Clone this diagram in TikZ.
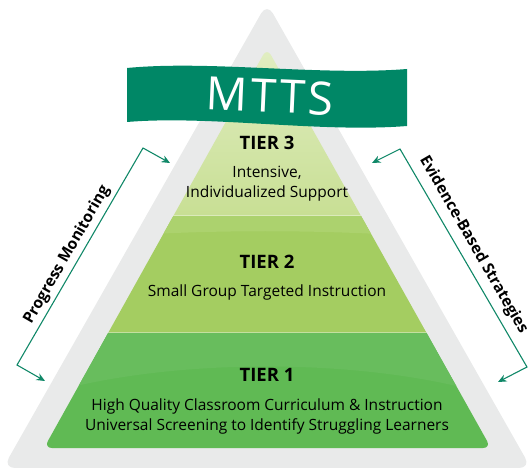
\documentclass[tikz,border=0pt]{standalone}
\usepackage{fontspec}
\setmainfont{Open Sans}
\usetikzlibrary{positioning}
\usetikzlibrary{arrows.meta}
\definecolor{palegrey}{RGB}{233,234,234}
\definecolor{tierthree}{RGB}{200,223,148}
\definecolor{tierthreelight}{RGB}{226,238,196}
\definecolor{tiertwo}{RGB}{164,205,97}
\definecolor{tiertwolight}{RGB}{172,210,110}
\definecolor{tierone}{RGB}{96,186,84}
\definecolor{tieronelight}{RGB}{164,214,152}
\definecolor{bannergreen}{RGB}{0,135,102}
\definecolor{arrowgreen}{RGB}{16,136,104}
\tikzset{tierhead/.style={font=\bfseries\fontsize{18.5}{20}\selectfont, text=black}}
\tikzset{tiertext/.style={font=\fontsize{15.5}{20}\selectfont, align=center, text=black}}
\tikzset{sidelabel/.style={font=\bfseries\fontsize{15.5}{18}\selectfont, text=black, inner sep=0.5pt}}
\tikzset{bannertext/.style={font=\fontsize{46}{50}\selectfont\addfontfeature{LetterSpace=6}, text=white}}
\tikzset{bracket/.style={draw=arrowgreen, line width=1.1pt,
{Stealth[length=3mm,width=2.6mm]}-{Stealth[length=3mm,width=2.6mm]}}}

\begin{document}
\begin{tikzpicture}[x=1pt,y=-1pt]
    \useasboundingbox (0,0) rectangle (531,468);

    % grey frame
    \fill[palegrey, rounded corners=12pt] (267,3) -- (531,468) -- (3,468) -- cycle;

    % tiers
    \begin{scope}
        \clip[rounded corners=8pt] (267,48) -- (491,448) -- (44,448) -- cycle;
        \shade[top color=tierthreelight, bottom color=tierthree] (0,40) rectangle (531,216);
        \fill[tiertwo] (0,216) rectangle (531,333);
        \fill[tiertwolight] (0,216) -- (531,216) -- (531,250) .. controls (400,225) and (130,225) .. (0,250) -- cycle;
        \fill[tierone] (0,333) rectangle (531,460);
        \shade[left color=tierone!95!white, middle color=tieronelight, right color=tierone!95!white]
            (0,333) -- (531,333) -- (531,410) .. controls (400,352) and (134,352) .. (0,410) -- cycle;
        \draw[white, opacity=0.4, line width=1pt] (0,216) -- (531,216);
        \draw[white, opacity=0.4, line width=1pt] (0,333) -- (531,333);
    \end{scope}

    % banner
    \fill[bannergreen] (127,68) .. controls (210,60) and (320,76) .. (407,69)
        -- (407,126) .. controls (320,133) and (210,115) .. (127,122) -- cycle;
    \node[bannertext, rotate=-2.5] (mtts) at (270,96) {MTTS};

    % tier texts
    \node[tierhead] (tier3) at (267,143) {TIER 3};
    \node[tiertext] (tier3txt) at (267,184) {Intensive,\\Individualized Support};
    \node[tierhead] (tier2) at (267,262) {TIER 2};
    \node[tiertext] (tier2txt) at (267,292) {Small Group Targeted Instruction};
    \node[tierhead] (tier1) at (267,375) {TIER 1};
    \node[tiertext] (tier1txt) at (267,416) {High Quality Classroom Curriculum \& Instruction\\Universal Screening to Identify Struggling Learners};

    % left bracket
    \coordinate (pmTop) at (170,163);
    \coordinate (pmTopCorner) at (143,148);
    \coordinate (pmBotCorner) at (17,365);
    \coordinate (pmBot) at (45,381);
    \draw[bracket] (pmTop) -- (pmTopCorner) -- (pmBotCorner) -- (pmBot);
    \node[sidelabel, rotate=60] (pm) at (67,255) {Progress Monitoring};

    % right bracket
    \coordinate (ebTop) at (372,163);
    \coordinate (ebTopCorner) at (400,149);
    \coordinate (ebBotCorner) at (527,367);
    \coordinate (ebBot) at (498,382);
    \draw[bracket] (ebTop) -- (ebTopCorner) -- (ebBotCorner) -- (ebBot);
    \node[sidelabel, rotate=-60] (eb) at (473.5,245) {Evidence-Based Strategies};

\end{tikzpicture}
\end{document}
